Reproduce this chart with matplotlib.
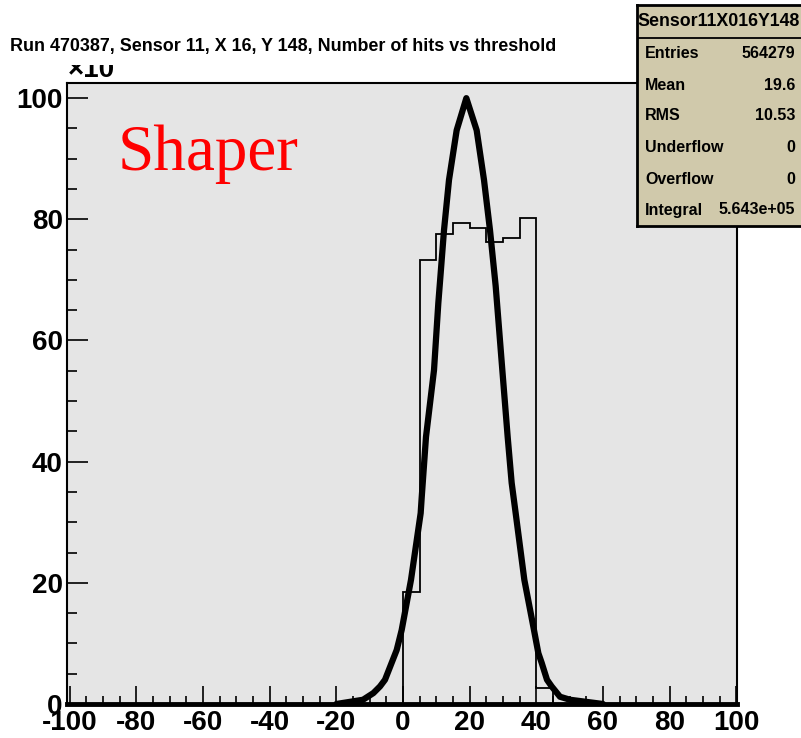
import matplotlib
matplotlib.use("Agg")
import matplotlib.pyplot as plt
from matplotlib.ticker import MultipleLocator
from matplotlib.patches import Rectangle

# ---- data ----
hist_edges = list(range(-100, 101, 5))
hist_nonzero_start = 0  # first non-empty bin starts at threshold 0
hist_nonzero_values = [18.5, 73.3, 77.6, 79.4, 78.6, 76.2, 76.9, 80.2, 2.6]

curve_x = [-20, -12, -8.9, -6.9, -5.4, -3.4, -1.9, -0.4, 2.4, 5.3, 5.6, 6.9, 9.3,
           10.6, 11.3, 12.3, 13.8, 16.1, 19.0, 22.1, 24.3, 26.1, 27.8, 29.8,
           31.4, 32.6, 33.8, 36.4, 39.3, 40.6, 41.6, 43.2, 44.6, 47.1, 50.1, 60]
curve_y = [0, 0.7, 1.8, 2.9, 4.0, 6.8, 8.9, 12.2, 20.5, 31.5, 34.0, 44.1, 55.1,
           66.2, 71.1, 78.2, 86.5, 94.7, 100.0, 94.7, 86.5, 78.2, 69.0, 55.1,
           44.1, 36.5, 31.5, 20.5, 12.2, 8.4, 6.8, 4.0, 2.9, 1.2, 0.7, 0]

x_ticks = [-100, -80, -60, -40, -20, 0, 20, 40, 60, 80, 100]
y_ticks = [0, 20, 40, 60, 80, 100]

title = "Run 470387, Sensor 11, X 16, Y 148, Number of hits vs threshold"
stats_name = "Sensor11X016Y148"
stats_labels = ["Entries", "Mean", "RMS", "Underflow", "Overflow", "Integral"]
stats_values = ["564279", "19.6", "10.53", "0", "0", "5.643e+05"]

# build histogram values on full edges
hist_values = [0.0] * (len(hist_edges) - 1)
i0 = hist_edges.index(hist_nonzero_start)
for k, v in enumerate(hist_nonzero_values):
    hist_values[i0 + k] = v

# ---- figure ----
W, H = 801, 738
fig = plt.figure(figsize=(W / 100, H / 100), dpi=100, facecolor="white")
plt.rcParams["font.family"] = ["Liberation Sans", "DejaVu Sans"]

def fx(px):
    return px / W

def fy(py):
    return 1 - py / H

ax = fig.add_axes([fx(67), fy(704), (737 - 67) / W, (704 - 83) / H])
ax.set_facecolor("#e5e5e5")
ax.set_xlim(-100.8, 100.2)
ax.set_ylim(0, 102.5)

ax.stairs(hist_values, hist_edges, color="black", lw=1.3, zorder=3)
ax.plot(curve_x, curve_y, color="black", lw=4.5, solid_joinstyle="round",
        solid_capstyle="round", zorder=4)

ax.set_xticks(x_ticks)
ax.set_yticks(y_ticks)
ax.xaxis.set_minor_locator(MultipleLocator(5))
ax.yaxis.set_minor_locator(MultipleLocator(5))
ax.set_xticklabels([str(t) for t in x_ticks])
ax.set_yticklabels([str(t) for t in y_ticks])
ax.tick_params(axis="x", which="major", direction="in", length=13, width=1.2,
               labelsize=20, pad=4)
ax.tick_params(axis="x", which="minor", direction="in", length=6, width=1.2)
ax.tick_params(axis="y", which="major", direction="in", length=15, width=1.2,
               labelsize=20, pad=3)
ax.tick_params(axis="y", which="minor", direction="in", length=7, width=1.2)
for lab in ax.get_xticklabels() + ax.get_yticklabels():
    lab.set_fontweight("bold")
for s in ["left", "top", "right"]:
    ax.spines[s].set_linewidth(1.5)
    ax.spines[s].set_color("black")
ax.spines["bottom"].set_linewidth(3.5)

# Shaper label
fig.text(fx(118), fy(170), "Shaper", color="red", fontsize=47,
         family=["Liberation Serif", "DejaVu Serif"], ha="left", va="baseline")

# x10 exponent (partly hidden under title area)
fig.text(fx(68), fy(77), "\u00d710", fontsize=20, fontweight="bold",
         ha="left", va="baseline", zorder=2)
fig.patches.append(Rectangle((fx(60), fy(65)), fx(70), (65 - 30) / H,
                             transform=fig.transFigure, facecolor="white",
                             edgecolor="none", zorder=5))

# title
fig.text(fx(10), fy(46), title, fontsize=12.9, fontweight="bold",
         ha="left", va="center", zorder=6)

# stats box
sx0, sx1, sy0, sy1 = 637, 803, 5, 226
sax = fig.add_axes([fx(sx0), fy(sy1), (sx1 - sx0) / W, (sy1 - sy0) / H])
sax.set_facecolor("#d0c9ab")
sax.set_xticks([])
sax.set_yticks([])
for s in sax.spines.values():
    s.set_linewidth(2)
    s.set_color("black")
sax.set_xlim(sx0, sx1)
sax.set_ylim(sy1, sy0)
sax.axhline(38, color="black", lw=1.3)
sax.text(719, 21, stats_name, fontsize=12.8, fontweight="bold", ha="center", va="center")
row_y = [53, 85, 116, 148, 179, 210]
for ry, lab, val in zip(row_y, stats_labels, stats_values):
    sax.text(645, ry, lab, fontsize=11.5, fontweight="bold", ha="left", va="center")
    sax.text(795, ry, val, fontsize=11.5, fontweight="bold", ha="right", va="center")

fig.savefig("out.png", dpi=100, facecolor="white")
